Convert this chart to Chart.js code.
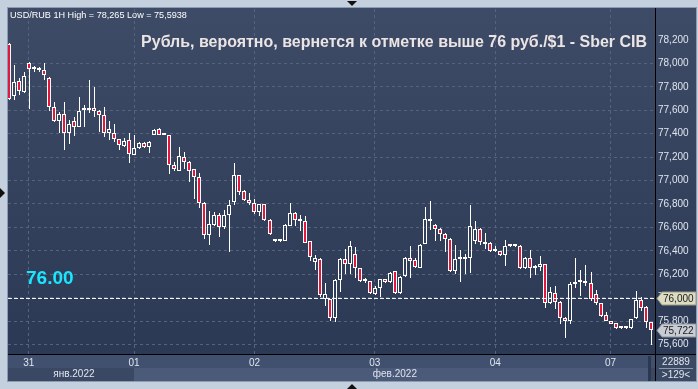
<!DOCTYPE html>
<html lang="ru">
<head>
<meta charset="UTF-8">
<title>USD/RUB 1H</title>
<script src="https://cdn.jsdelivr.net/npm/chart.js@4"></script>
<style>
  html, body { margin: 0; padding: 0; background: #c4d0dd; overflow: hidden; }
  #wrap { width: 698px; height: 389px; }
</style>
</head>
<body>
<div id="wrap"><canvas id="chart" width="698" height="389"></canvas></div>
<script>
// hourly candles
const opens = [78162,77718,77851,77752,78007,77962,77943,77942,77874,77630,
  77505,77568,77406,77505,77460,77600,77602,77619,77596,77559,
  77406,77406,77355,77292,77347,77219,77278,77321,77290,77389,
  77440,77394,77389,77136,77085,77204,77162,77094,77034,76810,
  76532,76617,76702,76603,76708,76816,77043,76907,76836,76810,
  76730,76796,76660,76496,76481,76484,76611,76725,76662,76651,
  76481,76305,76334,75985,75985,75826,76149,76334,76285,76376,
  76249,76145,76141,76030,76079,76155,76130,76226,76041,76186,
  76342,76319,76257,76462,76674,76623,76589,76547,76504,76228,
  76330,76328,76339,76484,76589,76475,76470,76398,76396,76362,
  76439,76441,76439,76249,76342,76249,76262,76283,75956,76036,
  75965,75828,75803,76113,76137,76135,76126,76027,75951,75851,
  75800,75781,75740,75740,75738,75823,75979,75922,75789];
const highs = [78170,77987,77871,77922,78013,77979,77973,78007,77880,77667,
  77587,77673,77517,77545,77715,77644,77860,77800,77600,77630,
  77511,77483,77358,77360,77406,77392,77332,77326,77335,77443,
  77445,77396,77392,77156,77284,77241,77170,77100,77062,76815,
  76736,76730,76722,76745,76830,77147,77051,76921,76892,76844,
  76800,76800,76668,76500,76504,76626,76807,76730,76702,76694,
  76485,76368,76338,76121,75990,76160,76340,76419,76481,76433,
  76252,76164,76145,76098,76160,76160,76215,76230,76182,76347,
  76439,76339,76458,76773,76822,76628,76592,76550,76508,76453,
  76404,76376,76787,76651,76592,76555,76474,76439,76400,76490,
  76447,76453,76453,76347,76404,76277,76353,76287,76092,76098,
  75970,75832,76135,76339,76234,76277,76215,76064,75955,75874,
  75803,75785,75742,75742,75818,76056,76007,75925,75792];
const lows = [77690,77690,77729,77745,77610,77922,77928,77857,77596,77500,
  77406,77261,77313,77381,77455,77454,77576,77539,77411,77369,
  77347,77326,77261,77284,77147,77215,77270,77275,77232,77385,
  77385,77388,77057,77079,77077,77100,76986,76844,76768,76498,
  76447,76609,76518,76589,76390,76787,76873,76824,76793,76717,
  76696,76654,76538,76478,76475,76480,76608,76611,76569,76466,
  76311,76240,76007,75928,75800,75790,76050,76206,76206,76164,
  76135,76121,76030,76021,76007,76125,76125,76035,76035,76180,
  76169,76257,76249,76455,76581,76484,76484,76390,76220,76206,
  76130,76206,76211,76462,76453,76419,76392,76392,76358,76271,
  76433,76433,76245,76245,76164,76192,76228,75913,75950,75902,
  75775,75658,75775,76079,76016,76098,75973,75936,75837,75800,
  75772,75735,75736,75736,75735,75820,75888,75743,75594];
const closes = [77698,77843,77760,77894,77956,77956,77947,77900,77624,77505,
  77568,77406,77483,77460,77596,77606,77619,77596,77559,77406,
  77440,77355,77307,77341,77227,77278,77321,77290,77332,77432,
  77389,77390,77134,77094,77213,77156,77079,77028,76810,76532,
  76626,76702,76603,76708,76793,77043,76901,76836,76807,76730,
  76796,76660,76547,76481,76492,76617,76725,76666,76658,76470,
  76347,76342,76022,76030,75826,76149,76334,76285,76441,76249,
  76143,76141,76036,76079,76155,76130,76211,76041,76177,76342,
  76313,76262,76453,76674,76654,76589,76547,76504,76228,76334,
  76326,76339,76609,76589,76475,76462,76396,76394,76362,76439,
  76441,76443,76249,76342,76249,76268,76291,75956,76045,75965,
  75828,75803,76115,76135,76133,76121,75988,75951,75845,75803,
  75775,75738,75738,75738,75815,75979,75908,75794,75722];

const dayTickIdx = [4, 25, 49, 73, 97, 120];
const dayTickLabels = ['31', '01', '02', '03', '04', '07'];
const monthLabels = ['янв.2022', 'фев.2022'];
const monthLabelIdx = [13, 77];
const priceTicks = [75600, 75800, 76000, 76200, 76400, 76600, 76800, 77000, 77200, 77400, 77600, 77800, 78000, 78200];
const markerLevel = 76000;

const RED = '#e3163c';
const GRID = '#56637d';
const TXT = '#dfe5ef';
const FONT = "'Liberation Sans', Arial, sans-serif";

const fmt = v => String(Math.round(v)).replace(/(\d)(\d{3})$/, '$1,$2');

const idx = closes.map((_, i) => i);
const bodies = idx.map(i => ({ x: i, y: [opens[i], closes[i]] }));
const upperWicks = idx.map(i => ({ x: i, y: [Math.max(opens[i], closes[i]), highs[i]] }));
const lowerWicks = idx.map(i => ({ x: i, y: [lows[i], Math.min(opens[i], closes[i])] }));
const bodyFill = idx.map(i => closes[i] >= opens[i] ? 'rgba(0,0,0,0)' : RED);

function fitFont(ctx, text, weight, width) {
  ctx.font = weight + ' 20px ' + FONT;
  const w = ctx.measureText(text).width;
  return weight + ' ' + (20 * width / w).toFixed(2) + 'px ' + FONT;
}

function priceBox(ctx, y, fill, stroke, text) {
  ctx.beginPath();
  ctx.moveTo(657, y);
  ctx.lineTo(662, y - 6.5);
  ctx.lineTo(696, y - 6.5);
  ctx.lineTo(696, y + 6.5);
  ctx.lineTo(662, y + 6.5);
  ctx.closePath();
  ctx.fillStyle = fill;
  ctx.fill();
  ctx.strokeStyle = stroke;
  ctx.lineWidth = 1;
  ctx.stroke();
  ctx.fillStyle = '#1a1a1a';
  ctx.font = '10px ' + FONT;
  ctx.textAlign = 'left';
  ctx.textBaseline = 'middle';
  ctx.fillText(text, 663, y + 0.5);
}

function tri(ctx, pts) {
  ctx.beginPath();
  ctx.moveTo(pts[0], pts[1]);
  ctx.lineTo(pts[2], pts[3]);
  ctx.lineTo(pts[4], pts[5]);
  ctx.closePath();
  ctx.fillStyle = '#111';
  ctx.fill();
}

const terminal = {
  id: 'terminal',
  afterDatasetsUpdate(chart) {
    chart.data.datasets.forEach((ds, di) => {
      chart.getDatasetMeta(di).data.forEach(el => {
        el.x = Math.round(el.x) + (ds.isWick ? 0.5 : 0);
        el.y = Math.round(el.y);
        el.base = Math.round(el.base);
      });
    });
  },
  beforeDraw(chart) {
    const ctx = chart.ctx;
    const a = chart.chartArea;
    ctx.save();
    ctx.fillStyle = '#c4d0dd';
    ctx.fillRect(0, 0, chart.width, chart.height);
    const g = ctx.createLinearGradient(0, a.top, 0, a.bottom);
    g.addColorStop(0, '#3e4b66');
    g.addColorStop(1, '#2c3954');
    ctx.fillStyle = g;
    ctx.fillRect(8, 8, 688, a.bottom - 8);
    // date strip
    ctx.fillStyle = '#425070';
    ctx.fillRect(8, a.bottom, 688, 27);
    ctx.fillStyle = '#3a4864';
    ctx.fillRect(8, a.bottom + 14, a.right - 8, 13);
    const xs = chart.scales.x;
    const febX = Math.round(xs.getPixelForValue(dayTickIdx[1]));
    ctx.fillStyle = '#4b5a78';
    ctx.fillRect(febX, a.bottom + 14, a.right - 7 - febX, 13);
    ctx.fillStyle = '#2c3850';
    ctx.fillRect(a.right - 7, a.bottom + 2, 3, 25);
    ctx.fillStyle = '#3a4862';
    ctx.fillRect(a.right + 1, a.bottom, 696 - a.right - 1, 27);
    ctx.restore();
  },
  afterDatasetsDraw(chart) {
    const ctx = chart.ctx;
    const a = chart.chartArea;
    const ys = chart.scales.y;
    const y0 = Math.round(ys.getPixelForValue(markerLevel)) + 0.5;
    ctx.save();
    ctx.strokeStyle = '#f4f4f4';
    ctx.lineWidth = 1;
    ctx.setLineDash([4, 2]);
    ctx.beginPath();
    ctx.moveTo(a.left, y0);
    ctx.lineTo(a.right, y0);
    ctx.stroke();
    ctx.restore();
  },
  afterDraw(chart) {
    const ctx = chart.ctx;
    const a = chart.chartArea;
    const xs = chart.scales.x;
    const ys = chart.scales.y;
    ctx.save();
    // frame lines
    ctx.strokeStyle = '#000';
    ctx.lineWidth = 1;
    ctx.beginPath();
    ctx.moveTo(a.right + 0.5, 8);
    ctx.lineTo(a.right + 0.5, 381);
    ctx.moveTo(8, a.bottom + 0.5);
    ctx.lineTo(696, a.bottom + 0.5);
    ctx.stroke();
    ctx.strokeStyle = '#8d9cb2';
    ctx.strokeRect(7.5, 7.5, 689, 374);

    // month labels
    ctx.fillStyle = TXT;
    ctx.font = '10px ' + FONT;
    ctx.textAlign = 'center';
    ctx.textBaseline = 'middle';
    monthLabels.forEach((t, i) => {
      ctx.fillText(t, xs.getPixelForValue(monthLabelIdx[i]), a.bottom + 20.5);
    });

    // bar count box
    ctx.fillText('22889', 676, a.bottom + 8);
    ctx.fillText('>' + closes.length + '<', 676, a.bottom + 21);
    ctx.strokeStyle = '#8a98ae';
    ctx.beginPath();
    ctx.moveTo(659, a.bottom + 14.5);
    ctx.lineTo(693, a.bottom + 14.5);
    ctx.stroke();

    // header and title
    ctx.textAlign = 'left';
    ctx.fillStyle = '#ffffff';
    ctx.font = fitFont(ctx, 'USD/RUB 1H High = 78,265 Low = 75,5938', 'normal', 177);
    ctx.fillText('USD/RUB 1H High = 78,265 Low = 75,5938', 10, 15);
    const title = 'Рубль, вероятно, вернется к отметке выше 76 руб./$1 - Sber CIB';
    ctx.fillStyle = '#ebe4e4';
    ctx.font = fitFont(ctx, title, 'bold', 506);
    ctx.textAlign = 'right';
    ctx.fillText(title, 647, 43);

    // level tag
    const y0 = ys.getPixelForValue(markerLevel);
    ctx.textAlign = 'left';
    ctx.textBaseline = 'alphabetic';
    ctx.fillStyle = '#1ae6ff';
    ctx.font = 'bold 19px ' + FONT;
    ctx.fillText((markerLevel / 1000).toFixed(2), 26, y0 - 14);

    // price boxes
    priceBox(ctx, Math.round(y0) + 0.5, '#dcdcc2', '#9a9a86', fmt(markerLevel));
    const last = closes[closes.length - 1];
    priceBox(ctx, Math.round(ys.getPixelForValue(last)) + 0.5, '#c8ccd4', '#8e939c', fmt(last));

    // window arrows
    tri(ctx, [347, 1, 357, 1, 352, 6]);
    tri(ctx, [347, 389, 357, 389, 352, 384]);
    tri(ctx, [0, 188, 0, 198, 5, 193]);
    ctx.restore();
  }
};

new Chart(document.getElementById('chart'), {
  type: 'bar',
  data: {
    datasets: [
      { data: bodies, backgroundColor: bodyFill, borderColor: '#ffffff', borderWidth: 1,
        borderSkipped: false, inflateAmount: 0, grouped: false, minBarLength: 2,
        barPercentage: 0.8, categoryPercentage: 1, maxBarThickness: 4 },
      { data: upperWicks, isWick: true, backgroundColor: '#ffffff', borderWidth: 0,
        inflateAmount: 0, grouped: false, barPercentage: 0.2, categoryPercentage: 1, maxBarThickness: 1 },
      { data: lowerWicks, isWick: true, backgroundColor: '#ffffff', borderWidth: 0,
        inflateAmount: 0, grouped: false, barPercentage: 0.2, categoryPercentage: 1, maxBarThickness: 1 }
    ]
  },
  options: {
    responsive: false,
    animation: false,
    devicePixelRatio: 1,
    layout: { padding: { left: 8, top: 8, right: 2, bottom: 8 } },
    plugins: { legend: { display: false }, tooltip: { enabled: false } },
    scales: {
      x: {
        type: 'linear', min: -0.14, max: 128.86, offset: false,
        afterBuildTicks: s => { s.ticks = dayTickIdx.map(v => ({ value: v })); },
        afterFit: s => { s.height = 27; },
        grid: { color: GRID, drawTicks: false, offset: false },
        border: { display: false, dash: [3, 3] },
        ticks: { color: TXT, font: { family: FONT, size: 10 }, padding: 3, autoSkip: false, maxRotation: 0,
          callback: (v, i) => dayTickLabels[i] }
      },
      y: {
        position: 'right', min: 75519, max: 78464,
        afterBuildTicks: s => { s.ticks = priceTicks.map(v => ({ value: v })); },
        afterFit: s => { s.width = 41; },
        grid: { color: c => (c.tick && c.tick.value > 78100) ? 'rgba(0,0,0,0)' : GRID, drawTicks: false },
        border: { display: false, dash: [3, 3] },
        ticks: { color: TXT, font: { family: FONT, size: 10 }, padding: 3, callback: v => fmt(v) }
      }
    }
  },
  plugins: [terminal]
});
</script>
</body>
</html>
